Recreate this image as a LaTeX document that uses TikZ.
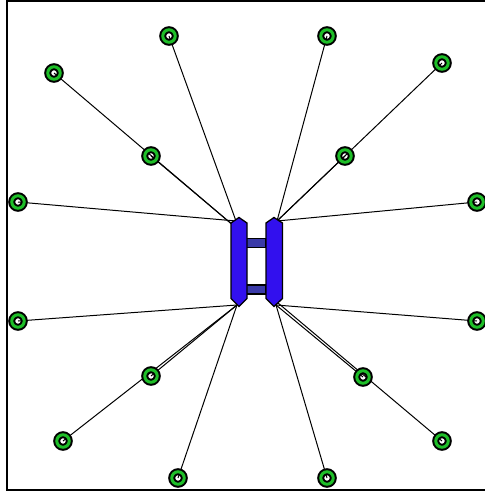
\documentclass[tikz,border=0pt]{standalone}
\usepackage{tikz}
\usetikzlibrary{positioning, calc, backgrounds}
\definecolor{ringgreen}{RGB}{30,190,40}
\definecolor{barblue}{RGB}{50,16,238}
\definecolor{rungblue}{RGB}{58,58,168}
\tikzstyle{ring} = [circle, minimum size=12.5pt, inner sep=0pt, outer sep=0pt, draw=black, line width=7pt, postaction={draw=ringgreen, line width=3pt}]
\tikzstyle{link} = [black, line width=1pt]
\tikzstyle{bar} = [draw=black, fill=barblue, line width=1.3pt, line join=miter]
\tikzstyle{rung} = [draw=black, fill=rungblue, line width=1.3pt]
\begin{document}
\begin{tikzpicture}[x=1pt, y=-1pt]
\useasboundingbox (0,0) rectangle (484,492);

% Attachment points on the two bars
\coordinate (lt) at (236,221);
\coordinate (lt2) at (234,226);
\coordinate (rt) at (277,221);
\coordinate (lb) at (237,305);
\coordinate (rb) at (276,305);
\coordinate (rb2) at (278,303);

% Rings
\node (n1) [ring] at (169,36) {};
\node (n2) [ring] at (327,36) {};
\node (n3) [ring] at (54,73) {};
\node (n4) [ring] at (442,63) {};
\node (n5) [ring] at (151,156) {};
\node (n6) [ring] at (345,156) {};
\node (n7) [ring] at (18,202) {};
\node (n8) [ring] at (477,202) {};
\node (n9) [ring] at (18,321) {};
\node (n10) [ring] at (477,321) {};
\node (n11) [ring] at (151,376) {};
\node (n12) [ring] at (363,377) {};
\node (n13) [ring] at (63,441) {};
\node (n14) [ring] at (442,441) {};
\node (n15) [ring] at (178,478) {};
\node (n16) [ring] at (327,478) {};

% Links (behind the rings)
\begin{scope}[on background layer]
\foreach \n in {n1,n7} \draw [link] (lt) -- (\n.center);
\foreach \n in {n3,n5} \draw [link] (lt2) -- (\n.center);
\foreach \n in {n2,n4,n6,n8} \draw [link] (rt) -- (\n.center);
\foreach \n in {n9,n11,n13,n15} \draw [link] (lb) -- (\n.center);
\foreach \n in {n10,n12,n16} \draw [link] (rb) -- (\n.center);
\draw [link] (rb2) -- (n14.center);
\end{scope}

% Rungs
\draw [rung] (246,238.5) rectangle (266,247.5);
\draw [rung] (246,285) rectangle (266,294);

% Bars
\draw [bar] (231,223) -- (239,217.5) -- (247,223) -- (247,298.5) -- (239,306.5) -- (231,298.5) -- cycle;
\draw [bar] (266,223) -- (274,217.5) -- (282.5,223) -- (282.5,298.5) -- (274,306.5) -- (266,298.5) -- cycle;

% Frame
\draw [black, line width=2pt] (491,1) -- (7,1) -- (7,490) -- (491,490);

\end{tikzpicture}
\end{document}
